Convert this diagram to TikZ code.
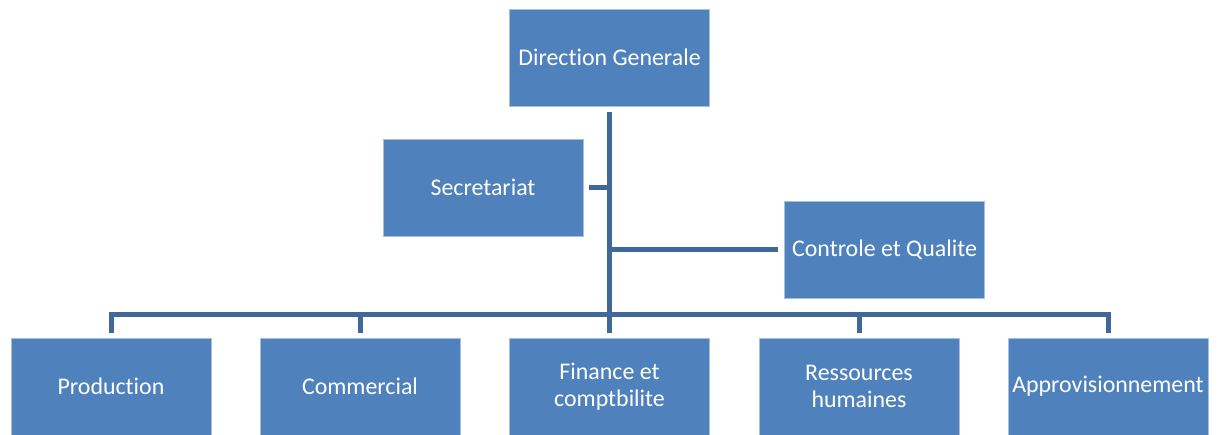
\documentclass[tikz,border=0pt]{standalone}
\usepackage{fontspec}
\setmainfont{Carlito}[Ligatures=NoCommon]
\usepackage{xcolor}
\definecolor{boxblue}{RGB}{79,129,189}
\definecolor{linkblue}{RGB}{64,104,154}
\definecolor{edgeblue}{RGB}{167,192,222}
\tikzset{%
    unit/.style={%
        draw=edgeblue, line width=0.4pt, fill=boxblue, text=white,
        minimum width=4cm, minimum height=1.94cm, inner sep=0pt,
        align=center, font=\fontsize{13.6}{15.4}\selectfont
    },
    link/.style={draw=linkblue, line width=0.1cm}
}
\begin{document}
\begin{tikzpicture}[x=0.02cm,y=-0.02cm]
    \useasboundingbox (0,0) rectangle (1219,435);
    % top of the chart
    \node[unit] (dg) at (609.5,57.5) {Direction Generale};
    \node[unit] (sec) at (483,187.5) {Secretariat};
    \node[unit] (ctrl) at (884.5,249.5) {Controle et Qualite};
    % departments
    \node[unit] (prod) at (111,386.5) {Production};
    \node[unit] (com) at (360,386.5) {Commercial};
    \node[unit] (fin) at (609.5,386.5) {Finance et\\comptbilite};
    \node[unit] (rh) at (859,386.5) {Ressources\\humaines};
    \node[unit] (appro) at (1108,386.5) {Approvisionnement};
    \coordinate (bus) at (609.5,314.5);
    % connectors
    \draw[link,shorten <=0.12cm,shorten >=0.1cm] (dg) -- (fin);
    \draw[link,shorten <=0.12cm] (sec.east) -- (sec.east -| dg);
    \draw[link,shorten <=0.12cm] (ctrl.west) -- (ctrl.west -| dg);
    \draw[link,shorten <=0.1cm,shorten >=0.1cm] (prod) |- (bus) -| (appro);
    \foreach \n in {com,rh}
        \draw[link,shorten >=0.1cm] (\n |- bus) -- (\n);
\end{tikzpicture}
\end{document}
